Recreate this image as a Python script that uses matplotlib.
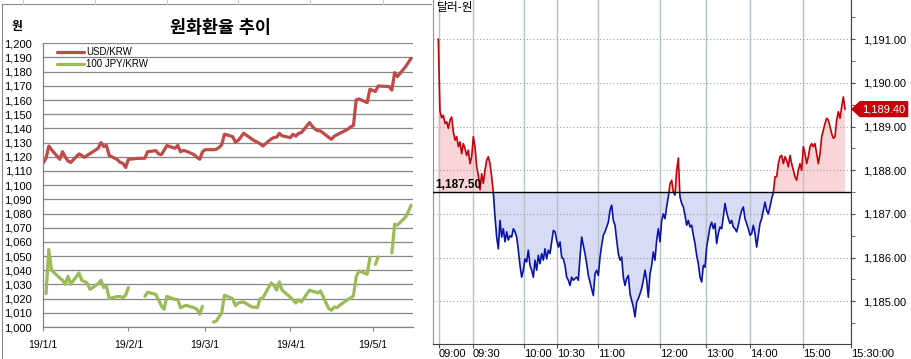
import numpy as np
import pandas as pd
import matplotlib
matplotlib.use('Agg')
import matplotlib.pyplot as plt
import matplotlib.transforms as mtrans
from matplotlib.lines import Line2D
from matplotlib.patches import Polygon, Rectangle
from matplotlib.ticker import MultipleLocator, FuncFormatter

plt.rcParams['font.family'] = ['Liberation Sans', 'Noto Sans CJK KR', 'DejaVu Sans']

# ---- left chart: daily closing rates (NaN = no quote that day) ----
days = ['01-01', '01-02', '01-03', '01-04', '01-07', '01-08', '01-09', '01-10', '01-11',
        '01-14', '01-15', '01-16', '01-17', '01-18',
        '01-21', '01-22', '01-23', '01-24', '01-25',
        '01-28', '01-29', '01-30', '01-31', '02-01',
        '02-04', '02-07', '02-08',
        '02-11', '02-12', '02-13', '02-14', '02-15',
        '02-18', '02-19', '02-20', '02-21', '02-22',
        '02-25', '02-26', '02-27', '02-28', '03-01',
        '03-04', '03-05', '03-06', '03-07', '03-08',
        '03-11', '03-12', '03-13', '03-14', '03-15',
        '03-18', '03-19', '03-20', '03-21', '03-22',
        '03-25', '03-26', '03-27', '03-28', '03-29',
        '04-01', '04-02', '04-03', '04-04', '04-05',
        '04-08', '04-09', '04-10', '04-11', '04-12',
        '04-15', '04-16', '04-17', '04-18', '04-19',
        '04-22', '04-23', '04-24', '04-25', '04-26',
        '04-29', '04-30', '05-01', '05-02', '05-03',
        '05-06', '05-07', '05-08', '05-09', '05-10',
        '05-13', '05-14', '05-15']
nan = np.nan
usd = [1115.7, 1118.9, 1127.6, 1125.0, 1118.2, 1123.6, 1120.0, 1117.0, 1116.0,
       1122.0, 1121.0, 1119.6, 1121.0, 1122.2,
       1126.0, 1130.0, 1127.2, 1128.0, 1121.0,
       1118.0, 1116.0, 1115.4, 1112.4, 1118.2,
       1118.8, 1119.0, 1123.6,
       1124.3, 1122.0, 1121.5, 1124.5, 1127.9,
       1126.0, 1128.0, 1123.5, 1124.5, 1124.0,
       1121.5, 1119.5, 1118.3, 1123.5, 1125.0,
       1125.0, 1125.3, 1126.5, 1128.5, 1135.9,
       1134.2, 1130.3, 1131.5, 1134.0, 1136.6,
       1132.5, 1131.2, 1130.3, 1129.2, 1127.6,
       1132.5, 1133.6, 1133.8, 1136.5, 1134.8,
       1133.5, 1135.9, 1134.5, 1136.5, 1137.0,
       1144.1, 1141.5, 1139.5, 1138.4, 1138.2,
       1133.7, 1132.3, 1134.5, 1135.5, 1136.5,
       1139.5, 1141.2, 1142.0, 1160.1, 1160.8,
       1158.2, 1167.6, nan, 1166.0, 1169.9,
       nan, 1169.5, 1167.0, 1179.3, 1176.5,
       1183.5, 1186.5, 1189.4]
jpy = [nan, 1023.5, 1054.6, 1040.0, 1034.5, 1033.0, 1030.1, 1035.8, 1030.1,
       1038.1, 1033.0, 1032.0, 1031.0, 1026.5,
       1030.5, 1033.0, 1027.8, 1028.7, 1020.0,
       1021.5, 1021.5, 1020.7, 1022.4, 1027.8,
       nan, 1021.6, 1024.5,
       1023.0, 1019.0, 1015.0, 1012.5, 1021.6,
       1019.5, 1019.3, 1013.5, 1014.5, 1015.3,
       1013.5, 1012.5, 1009.0, 1014.6, nan,
       1003.5, 1004.2, 1007.0, 1009.9, 1022.4,
       1020.0, 1015.0, 1016.9, 1017.3, 1017.6,
       1014.1, 1014.0, 1013.6, 1020.0, 1020.5,
       1031.1, 1029.4, 1026.0, 1031.8, 1026.0,
       1021.0, 1019.0, 1016.9, 1019.3, 1017.6,
       1026.0, 1025.2, 1024.8, 1024.0, 1025.4,
       1013.0, 1011.8, 1014.1, 1013.6, 1015.3,
       1019.5, 1020.5, 1022.0, 1035.3, 1039.5,
       1037.2, 1048.9, nan, 1044.2, 1049.4,
       nan, nan, 1052.2, 1072.5, 1071.8,
       1077.5, 1081.5, 1085.9]
month_ticks = ['2019-01-01', '2019-02-01', '2019-03-01', '2019-04-01', '2019-05-01']
month_labels = ['19/1/1', '19/2/1', '19/3/1', '19/4/1', '19/5/1']

# ---- right chart: intraday USD/KRW ticks ----
prev_close = 1187.50
krw = [1191.00, 1189.35, 1189.20, 1189.26, 1189.07, 1189.11, 1188.96, 1189.15, 1189.22, 1188.88,
       1188.69, 1188.77, 1188.54, 1188.65, 1188.38, 1188.61, 1188.50, 1188.34, 1188.46, 1188.15,
       1188.31, 1188.77, 1188.54, 1188.08, 1187.89, 1187.55, 1187.92, 1187.70, 1188.00, 1188.23,
       1188.31, 1188.15, 1187.85, 1187.49, 1186.93, 1186.47, 1186.20, 1186.85, 1186.47, 1186.66,
       1186.36, 1186.59, 1186.40, 1186.50, 1186.47, 1186.66, 1186.59, 1186.47, 1186.17, 1185.82,
       1185.55, 1185.71, 1185.97, 1185.90, 1186.17, 1185.82, 1185.71, 1185.55, 1185.94, 1185.71,
       1186.05, 1185.86, 1186.09, 1185.94, 1186.20, 1185.97, 1186.17, 1186.09, 1186.36, 1186.62,
       1186.59, 1186.40, 1186.24, 1186.36, 1186.01, 1185.97, 1185.82, 1185.55, 1185.48, 1185.36,
       1185.55, 1185.48, 1185.52, 1185.55, 1185.48, 1186.01, 1186.47, 1186.28, 1186.09, 1185.86,
       1185.59, 1185.44, 1185.29, 1185.13, 1185.63, 1185.71, 1185.59, 1186.01, 1186.28, 1186.51,
       1186.59, 1186.70, 1186.81, 1187.08, 1187.20, 1186.85, 1186.74, 1186.40, 1186.09, 1185.94,
       1186.01, 1185.55, 1185.36, 1185.52, 1185.59, 1185.17, 1185.02, 1184.87, 1184.64, 1184.98,
       1185.06, 1185.17, 1185.29, 1185.48, 1185.71, 1185.48, 1185.09, 1185.63, 1185.82, 1186.13,
       1185.94, 1186.40, 1186.66, 1186.36, 1186.85, 1187.00, 1186.89, 1187.16, 1187.39, 1187.69,
       1187.77, 1187.50, 1187.43, 1188.00, 1188.28, 1187.39, 1187.24, 1187.16, 1186.97, 1186.74,
       1186.85, 1186.70, 1186.74, 1186.51, 1186.32, 1186.05, 1185.86, 1185.55, 1185.44, 1185.82,
       1185.78, 1186.24, 1186.47, 1186.70, 1186.81, 1186.66, 1186.78, 1186.32, 1186.55, 1186.70,
       1186.66, 1186.93, 1187.24, 1187.04, 1186.89, 1186.78, 1186.85, 1186.70, 1186.66, 1186.59,
       1186.74, 1186.93, 1187.08, 1187.16, 1186.89, 1186.78, 1186.66, 1186.51, 1186.55, 1186.74,
       1186.55, 1186.24, 1186.51, 1186.78, 1186.89, 1187.08, 1187.27, 1187.08, 1187.00, 1187.16,
       1187.35, 1187.49, 1187.85, 1187.85, 1188.15, 1188.31, 1188.34, 1188.15, 1188.31, 1188.23,
       1188.08, 1188.34, 1188.15, 1188.00, 1187.85, 1187.77, 1188.00, 1188.15, 1188.00, 1188.54,
       1188.38, 1188.15, 1188.31, 1188.54, 1188.61, 1188.54, 1188.61, 1188.38, 1188.15, 1188.38,
       1188.77, 1188.92, 1189.07, 1189.19, 1189.15, 1189.00, 1188.84, 1188.73, 1188.77, 1189.15,
       1189.34, 1189.19, 1189.45, 1189.68, 1189.40]
# tick index at which each time label falls
time_pos = [0.4, 20.8, 51.4, 71.2, 95.6, 132.8, 160.4, 186.8, 218.6, 247.6]
time_labels = ['09:00', '09:30', '10:00', '10:30', '11:00', '12:00', '13:00', '14:00', '15:00', '15:30:00']

W, H = 911, 359
fig = plt.figure(figsize=(W / 100, H / 100), dpi=100)


def fx(px):
    return px / W


def fy(py):
    return 1 - py / H


# ================= left panel =================
ax1 = fig.add_axes([fx(43.3), fy(327), (413 - 43.3) / W, (327 - 43.3) / H])
dates = pd.to_datetime(['2019-' + d for d in days])
usd_s = pd.Series(usd, index=dates)
jpy_s = pd.Series(jpy, index=dates)
u = usd_s.dropna()
ax1.plot(u.index, u.values, color='#be4b48', lw=2.3, label='USD/KRW', solid_capstyle='round')
ax1.plot(jpy_s.index, jpy_s.values, color='#9bbb59', lw=2.3, label='100 JPY/KRW', solid_capstyle='round')

start = pd.Timestamp('2019-01-01')
ax1.set_xlim(start, start + pd.Timedelta(days=134.7))
ax1.set_ylim(1000, 1200)
ax1.set_yticks(range(1000, 1201, 10))
ax1.yaxis.set_major_formatter(FuncFormatter(lambda v, p: f'{int(v):,}'))
ax1.set_xticks(pd.to_datetime(month_ticks))
ax1.set_xticklabels(month_labels)
ax1.grid(axis='y', color='#868686', lw=0.9)
ax1.set_axisbelow(True)
for s in ['top', 'right']:
    ax1.spines[s].set_visible(False)
for s in ['left', 'bottom']:
    ax1.spines[s].set_color('#868686')
    ax1.spines[s].set_linewidth(0.9)
ax1.tick_params(axis='y', length=0, pad=8, labelsize=8)
ax1.tick_params(axis='x', length=3, color='#868686', pad=6, labelsize=7.5)

ax1.legend(loc='upper left', bbox_to_anchor=(fx(57), fy(47)), bbox_transform=fig.transFigure,
           frameon=False, fontsize=7, handlelength=2.8, handletextpad=0.2,
           labelspacing=0.25, borderpad=0, borderaxespad=0)

fig.text(fx(220), fy(27), '원화환율 추이', ha='center', va='center', fontsize=12.5,
         fontweight='bold')
fig.text(fx(17), fy(27), '원', ha='center', va='center', fontsize=8.5, fontweight='bold')

# sheet frame around the left chart
frame = '#8c8c8c'
fig.add_artist(Line2D([fx(2), fx(431)], [fy(4), fy(4)], color=frame, lw=0.8))
fig.add_artist(Line2D([fx(2), fx(2)], [fy(4), 0], color=frame, lw=0.8))
for cx in [23, 95, 167, 238, 310, 383]:
    fig.add_artist(Line2D([fx(cx), fx(cx)], [1, fy(4)], color='#c8c8c8', lw=0.8))

# ================= right panel =================
ax2 = fig.add_axes([fx(433), fy(344), (851 - 433) / W, 344 / H])
y = np.array(krw)
x = np.arange(len(y))
ax2.fill_between(x, y, prev_close, where=y >= prev_close, interpolate=True,
                 color='#f9d5d7', lw=0)
ax2.fill_between(x, y, prev_close, where=y <= prev_close, interpolate=True,
                 color='#d7dbf4', lw=0)
up, = ax2.plot(x, y, color='#c8000a', lw=1.2)
dn, = ax2.plot(x, y, color='#0a14a8', lw=1.2)
up.set_clip_path(Rectangle((-50, prev_close), 400, 20, transform=ax2.transData))
dn.set_clip_path(Rectangle((-50, prev_close - 20), 400, 20, transform=ax2.transData))
ax2.axhline(prev_close, color='black', lw=1, zorder=3)

ax2.set_xlim(-3.2, 247.6)
ax2.set_ylim(1184.02, 1191.9)
ax2.yaxis.tick_right()
ax2.set_yticks(np.arange(1185, 1192, 1.0))
ax2.yaxis.set_minor_locator(MultipleLocator(0.5))
ax2.yaxis.set_major_formatter(FuncFormatter(lambda v, p: f'{v:,.2f}'))
ax2.set_xticks(time_pos)
ax2.set_xticklabels(time_labels, fontsize=8)
off = mtrans.ScaledTranslation(1.0 / 72, 0, fig.dpi_scale_trans)
for lab in ax2.get_xticklabels():
    lab.set_ha('left')
    lab.set_transform(lab.get_transform() + off)
ax2.tick_params(axis='y', which='both', direction='out', length=3, color='#505050',
                pad=6, labelsize=8)
ax2.tick_params(axis='x', direction='out', length=3, color='#505050', pad=0.5)
ax2.grid(axis='x', color='#b4c2ca', lw=1, ls='-')
ax2.grid(axis='y', which='major', color='#a0a0a0', lw=0.8, ls=(0, (1, 2)))
ax2.set_axisbelow('line')
ax2.spines['top'].set_visible(False)
ax2.spines['left'].set_color('#909090')
ax2.spines['right'].set_color('#404040')
ax2.spines['bottom'].set_color('#404040')

lab_tr = mtrans.blended_transform_factory(ax2.transAxes, ax2.transData)
ax2.text(0.005, prev_close + 0.16, f'{prev_close:,.2f}', transform=lab_tr, ha='left',
         va='center', fontsize=8.5, fontweight='bold', zorder=4)

last = y[-1]
h = 0.185
tag = Polygon([(1.0, last), (1.021, last + h), (1.137, last + h), (1.137, last - h),
               (1.021, last - h)], closed=True, transform=lab_tr, clip_on=False,
              facecolor='#c8000a', edgecolor='none', zorder=5)
ax2.add_patch(tag)
ax2.text(1.079, last, f'{last:,.2f}', transform=lab_tr, ha='center', va='center',
         color='white', fontsize=8, zorder=6, clip_on=False)

fig.text(fx(437), fy(8), '달러-원', ha='left', va='center', fontsize=8.5)

fig.savefig('out.png', dpi=100)
